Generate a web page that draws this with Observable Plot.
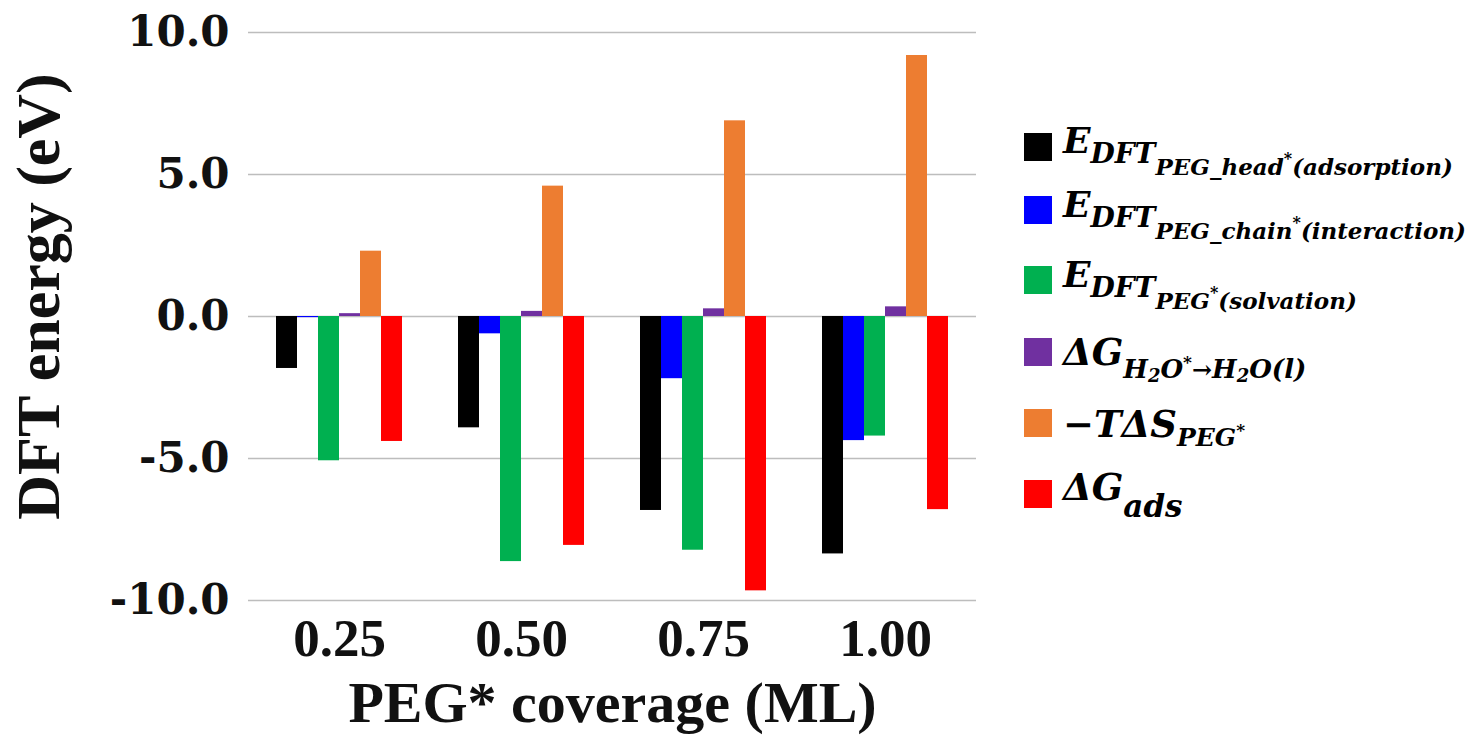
<!DOCTYPE html>
<html>
<head>
<meta charset="utf-8">
<script src="https://cdn.jsdelivr.net/npm/d3@7"></script>
<script src="https://cdn.jsdelivr.net/npm/@observablehq/plot@0.6"></script>
<style>
  html, body { margin: 0; padding: 0; background: #fff; }
  #chart { position: relative; width: 1474px; height: 736px; }
  g[aria-label="y-axis tick label"] { font: bold 42px "DejaVu Serif"; fill: #111; }
  g[aria-label="y-axis label"] { font: bold 62px "Liberation Serif"; fill: #111; }
  g[aria-label="fx-axis tick label"] { font: bold 53px "Liberation Serif"; fill: #111; }
  g[aria-label="fx-axis label"] { font: bold 58px "Liberation Serif"; fill: #111; }
</style>
</head>
<body>
<div id="chart"></div>
<script>
// ---- data ----
const coverages = ["0.25", "0.50", "0.75", "1.00"];
const seriesKeys = ["E_head_ads", "E_chain_int", "E_solv", "dG_H2O", "mTdS", "dG_ads"];
const eHeadAdsorption = [-1.83, -3.92, -6.83, -8.36];
const eChainInteraction = [-0.04, -0.61, -2.19, -4.37];
const eSolvation = [-5.08, -8.63, -8.23, -4.21];
const dGWater = [0.10, 0.18, 0.27, 0.34];
const minusTdS = [2.30, 4.59, 6.89, 9.19];
const dGAds = [-4.40, -8.06, -9.66, -6.80];
const seriesValues = [eHeadAdsorption, eChainInteraction, eSolvation, dGWater, minusTdS, dGAds];
const seriesColors = ["#000000", "#0000FF", "#00B050", "#7030A0", "#ED7D31", "#FF0000"];
const yTicks = [-10, -5, 0, 5, 10];

const data = coverages.flatMap((c, i) =>
  seriesKeys.map((s, j) => ({coverage: c, series: s, value: seriesValues[j][i]}))
);

const plot = Plot.plot({
  width: 1474,
  height: 736,
  marginLeft: 247,
  marginRight: 498,
  marginTop: 32,
  marginBottom: 136,
  style: {background: "white"},
  fx: {domain: coverages, padding: 0},
  x: {domain: seriesKeys, paddingInner: 0, paddingOuter: 1.24, axis: null},
  y: {domain: [-10, 10]},
  color: {domain: seriesKeys, range: seriesColors},
  marks: [
    Plot.gridY(yTicks, {stroke: "#bdbdbd", strokeOpacity: 1, strokeWidth: 1.5}),
    Plot.barY(data, {fx: "coverage", x: "series", y: "value", fill: "series"}),
    Plot.axisY({
      ticks: yTicks, tickFormat: d => d.toFixed(1), tickSize: 0, tickPadding: 19,
      label: "DFT energy (eV)", labelAnchor: "center", labelArrow: "none", labelOffset: 234
    }),
    Plot.axisFx({
      anchor: "bottom", tickSize: 0, tickPadding: 18,
      label: "PEG* coverage (ML)", labelAnchor: "center", labelArrow: "none", labelOffset: 121
    })
  ]
});

document.getElementById("chart").appendChild(plot);

const svg = d3.select(plot.tagName.toLowerCase() === "svg" ? plot : plot.querySelector("svg"));

// shift the y-axis title up slightly, as in the reference
svg.selectAll('g[aria-label="y-axis label"] text').each(function () {
  const tr = this.getAttribute("transform") || "";
  this.setAttribute("transform", "translate(0,-20) " + tr);
});

// ---- legend (right side) ----
const legendRows = [
  {cy: 147, base: 153, parts: [["E", 36, 0], ["DFT", 28, 10], ["PEG_head", 23, 12], ["*", 16, -11], ["(adsorption)", 23, 11]]},
  {cy: 210, base: 217, parts: [["E", 36, 0], ["DFT", 28, 10], ["PEG_chain", 23, 12], ["*", 16, -11], ["(interaction)", 23, 11]]},
  {cy: 280, base: 287, parts: [["E", 36, 0], ["DFT", 28, 10], ["PEG", 23, 12], ["*", 16, -11], ["(solvation)", 23, 11]]},
  {cy: 352, base: 365, parts: [["\u0394G", 37, 0], ["H", 26, 13], ["2", 18, 4], ["O", 26, -4], ["*", 17, -10], ["\u2192", 24, 10], ["H", 26, 0], ["2", 18, 4], ["O(l)", 26, -4]]},
  {cy: 423, base: 437, parts: [["\u2212T\u0394S", 37, 0], ["PEG", 25, 9], ["*", 17, -10]]},
  {cy: 494, base: 500, parts: [["\u0394G", 37, 0], ["ads", 31, 17]]}
];

const lg = svg.append("g").attr("aria-label", "legend").attr("text-anchor", "start");
legendRows.forEach((row, i) => {
  lg.append("rect")
    .attr("x", 1024).attr("y", row.cy - 14).attr("width", 28).attr("height", 28)
    .attr("fill", seriesColors[i]);
  const t = lg.append("text")
    .attr("x", 1063).attr("y", row.base)
    .attr("text-anchor", "start")
    .attr("font-family", "DejaVu Serif").attr("font-weight", "bold").attr("font-style", "italic")
    .attr("fill", "#000");
  row.parts.forEach(([s, fs, dy]) => {
    t.append("tspan").attr("font-size", fs).attr("dy", dy).text(s);
  });
});
</script>
</body>
</html>
